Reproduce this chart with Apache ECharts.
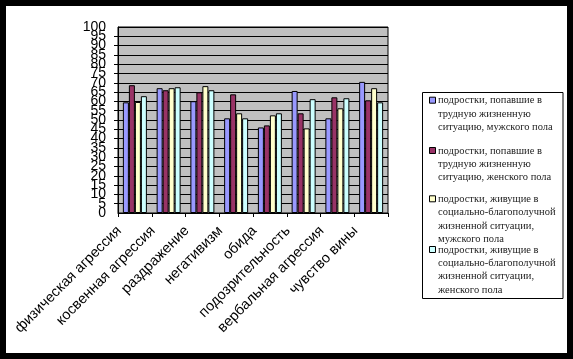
<!DOCTYPE html>
<html>
<head>
<meta charset="utf-8">
<script src="https://cdn.jsdelivr.net/npm/echarts@6/dist/echarts.min.js"></script>
<style>
html,body{margin:0;padding:0;background:#fff;}
#chart{width:573px;height:359px;}
</style>
</head>
<body>
<div id="chart"></div>
<script>
var categories = ['физическая агрессия','косвенная агрессия','раздражение','негативизм','обида','подозрительность','вербальная агрессия','чувство вины'];
var seriesNames = [
  'подростки, попавшие в\nтрудную жизненную\nситуацию, мужского пола',
  'подростки, попавшие в\nтрудную жизненную\nситуацию, женского пола',
  'подростки, живущие в\nсоциально-благополучной\nжизненной ситуации,\nмужского пола',
  'подростки, живущие в\nсоциально-благополучной\nжизненной ситуации,\nженского пола'
];
var boysHard  = [59.5, 67.1, 60.1, 50.9, 46.0, 65.6, 50.9, 70.5];
var girlsHard = [68.7, 66.0, 64.9, 63.8, 47.1, 53.6, 62.2, 60.6];
var boysWell  = [59.7, 67.1, 68.2, 53.6, 52.5, 45.5, 56.3, 67.1];
var girlsWell = [62.8, 67.6, 66.0, 50.9, 53.6, 61.2, 61.7, 59.5];
var yTickLabels = [0, 5, 10, 15, 20, 25, 30, 35, 40, 45, 50, 55, 60, 65, 70, 75, 80, 85, 90, 95, 100];
var yEndLabels = [0, 100];

var colors = ['#9999FF', '#993366', '#FFFFCC', '#CCFFFF'];
var allData = [boysHard, girlsHard, boysWell, girlsWell];

var chart = echarts.init(document.getElementById('chart'));

var legendTops = [100.7, 151, 199.3, 250];
var lh = 13.3;
var graphics = [
  {type:'rect', shape:{x:0,y:0,width:573,height:359}, style:{fill:'none', stroke:'#000', lineWidth:12}, z:100},
  {type:'rect', shape:{x:422.5,y:92.5,width:140.5,height:206}, style:{fill:'#fff', stroke:'#000', lineWidth:1}, z:50}
];
seriesNames.forEach(function(n, i){
  graphics.push({type:'rect', shape:{x:429.5, y:legendTops[i]-3.5, width:6, height:6},
    style:{fill:colors[i], stroke:'#000', lineWidth:1}, z:51});
  graphics.push({type:'text', x:438, y:legendTops[i]-lh/2, z:51,
    style:{text:n, fill:'#222', font:'10.5px "Liberation Serif"', lineHeight:lh, verticalAlign:'top', align:'left'}});
});

var series = allData.map(function(d, i){
  return {
    name: seriesNames[i],
    type: 'bar',
    yAxisIndex: 0,
    data: d,
    barWidth: 6,
    barGap: '0%',
    itemStyle: {color: colors[i], borderColor: '#000', borderWidth: 1},
    animation: false
  };
});

var yMin = yTickLabels[0], yMax = yTickLabels[yTickLabels.length-1], yStep = yTickLabels[1]-yTickLabels[0];
var labelStyle = {margin:12, color:'#000', fontFamily:'Liberation Sans', fontSize:14, lineHeight:8, hideOverlap:false};

chart.setOption({
  backgroundColor: '#fff',
  animation: false,
  grid: {left:118, top:27, width:270, height:186, show:true, backgroundColor:'#C0C0C0', borderColor:'#000', borderWidth:1},
  xAxis: {
    type:'category',
    data: categories,
    axisLine:{lineStyle:{color:'#000', width:1}},
    axisTick:{show:true, length:4, lineStyle:{color:'#000'}, alignWithLabel:false},
    axisLabel:{interval:0, rotate:45, margin:0, padding:[0,22,0,0], color:'#000', fontFamily:'Liberation Sans', fontSize:14.5, hideOverlap:false}
  },
  yAxis: [{
    type:'value', position:'left',
    min: yMin, max: yMax, interval: yStep,
    axisLine:{show:true, lineStyle:{color:'#000'}},
    axisTick:{show:true, length:4, lineStyle:{color:'#000'}},
    splitLine:{show:true, lineStyle:{color:'#000', width:1}},
    axisLabel: Object.assign({customValues: yTickLabels}, labelStyle)
  }, {
    type:'value', position:'left', offset:0,
    min: yMin, max: yMax, interval: yMax - yMin,
    axisLine:{show:false}, axisTick:{show:false}, splitLine:{show:false},
    axisLabel: Object.assign({customValues: yEndLabels, showMinLabel:true, showMaxLabel:true}, labelStyle)
  }],
  series: series,
  graphic: graphics
});
</script>
</body>
</html>
